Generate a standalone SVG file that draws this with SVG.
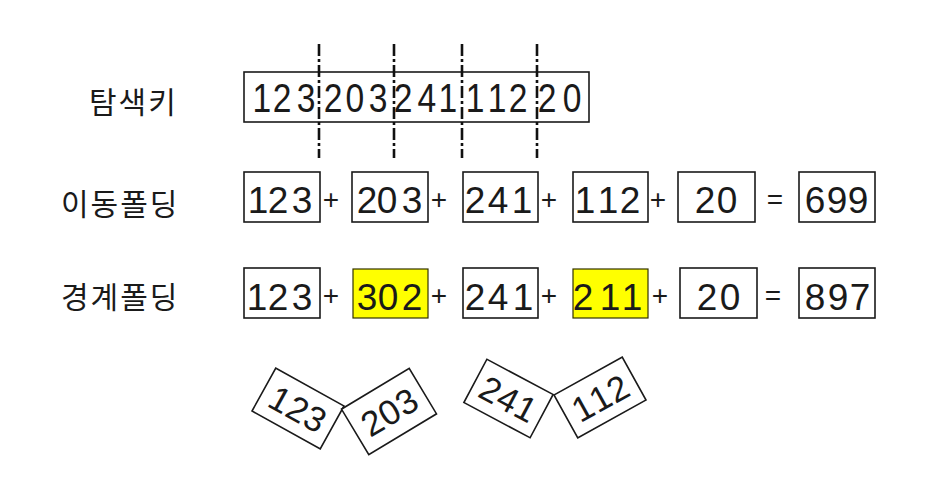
<svg xmlns="http://www.w3.org/2000/svg" width="940" height="490" viewBox="0 0 940 490">
<style>
  .bx { fill: #ffffff; stroke: #1a1a1a; stroke-width: 1.6; }
  .hl { fill: #ffff00; stroke: #333300; stroke-width: 1.2; }
  .dg { font-family: "Liberation Sans", Arial, sans-serif; font-size: 37px; fill: #1a1a1a; text-anchor: middle; }
  .big { font-size: 41px; }
  .rot { font-size: 35px; }
  .op { font-family: "Liberation Sans", Arial, sans-serif; font-size: 28px; fill: #1a1a1a; text-anchor: middle; }
  .lb { font-family: "Noto Sans CJK KR", sans-serif; font-size: 30px; fill: #1a1a1a; letter-spacing: 2px; }
  .cut { stroke: #111; stroke-width: 2.6; stroke-dasharray: 12 3 3 3; fill: none; }
</style>
<rect width="940" height="490" fill="#ffffff"/>

<g id="labels">
  <text class="lb" x="89" y="113">탐색키</text>
  <text class="lb" x="61" y="215">이동폴딩</text>
  <text class="lb" x="61" y="308">경계폴딩</text>
</g>

<g id="key">
  <rect class="bx" x="244" y="72" width="345" height="50"/>
  <text class="dg big" transform="scale(0.82,1)" y="112" x="319.5 343.9 373.2 406.1 432.9 461.0 491.5 520.7 546.3 579.3 606.1 631.7 667.1 697.6">12320324111220</text>
</g>

<g id="connectors">
  <line class="cut" x1="319" y1="44" x2="319" y2="158"/>
  <line class="cut" x1="394" y1="44" x2="394" y2="158"/>
  <line class="cut" x1="462" y1="44" x2="462" y2="158"/>
  <line class="cut" x1="537" y1="44" x2="537" y2="158"/>
</g>

<g id="shift-folding">
  <g id="s1"><rect class="bx" x="244" y="172" width="76" height="50"/><text class="dg" y="213" x="258 278 302">123</text></g>
  <text class="op" x="331" y="209">+</text>
  <g id="s2"><rect class="bx" x="352" y="172" width="76" height="50"/><text class="dg" y="213" x="367 387 412">203</text></g>
  <text class="op" x="439" y="209">+</text>
  <g id="s3"><rect class="bx" x="463" y="172" width="75" height="50"/><text class="dg" y="213" x="475 498 522">241</text></g>
  <text class="op" x="549" y="209">+</text>
  <g id="s4"><rect class="bx" x="573" y="172" width="75" height="50"/><text class="dg" y="213" x="585 608 630">112</text></g>
  <text class="op" x="658" y="209">+</text>
  <g id="s5"><rect class="bx" x="678" y="172" width="77" height="50"/><text class="dg" y="213" x="705 727">20</text></g>
  <text class="op" x="775" y="209">=</text>
  <g id="s6"><rect class="bx" x="799" y="172" width="76" height="50"/><text class="dg" y="213" x="815 837 858">699</text></g>
</g>

<g id="boundary-folding">
  <g id="b1"><rect class="bx" x="244" y="268" width="76" height="50"/><text class="dg" y="310" x="257 278 302">123</text></g>
  <text class="op" x="331" y="305">+</text>
  <g id="b2"><rect class="hl" x="353" y="269" width="75" height="49"/><text class="dg" y="310" x="367 388 412">302</text></g>
  <text class="op" x="439" y="305">+</text>
  <g id="b3"><rect class="bx" x="463" y="268" width="75" height="50"/><text class="dg" y="310" x="475 498 523">241</text></g>
  <text class="op" x="549" y="305">+</text>
  <g id="b4"><rect class="hl" x="573" y="269" width="75" height="49"/><text class="dg" y="310" x="583 610 632">211</text></g>
  <text class="op" x="660" y="305">+</text>
  <g id="b5"><rect class="bx" x="680" y="268" width="77" height="50"/><text class="dg" y="310" x="707 730">20</text></g>
  <text class="op" x="773" y="305">=</text>
  <g id="b6"><rect class="bx" x="799" y="268" width="76" height="50"/><text class="dg" y="310" x="815 838 860">897</text></g>
</g>

<g id="folded">
  <g id="f1" transform="translate(298,408.5) rotate(29)">
    <rect class="bx" x="-39" y="-24.5" width="78" height="49"/>
    <text class="dg rot" x="-20 0 20" y="13">123</text>
  </g>
  <g id="f2" transform="translate(389,411.5) rotate(-31)">
    <rect class="bx" x="-39.5" y="-26.5" width="79" height="53"/>
    <text class="dg rot" x="-20 0 20" y="13">203</text>
  </g>
  <g id="f3" transform="translate(508.5,398.5) rotate(28)">
    <rect class="bx" x="-37.5" y="-24.5" width="75" height="49"/>
    <text class="dg rot" x="-20 0 20" y="13">241</text>
  </g>
  <g id="f4" transform="translate(600,397.5) rotate(-29)">
    <rect class="bx" x="-39" y="-24.5" width="78" height="49"/>
    <text class="dg rot" x="-20 0 20" y="13">112</text>
  </g>
</g>
</svg>
